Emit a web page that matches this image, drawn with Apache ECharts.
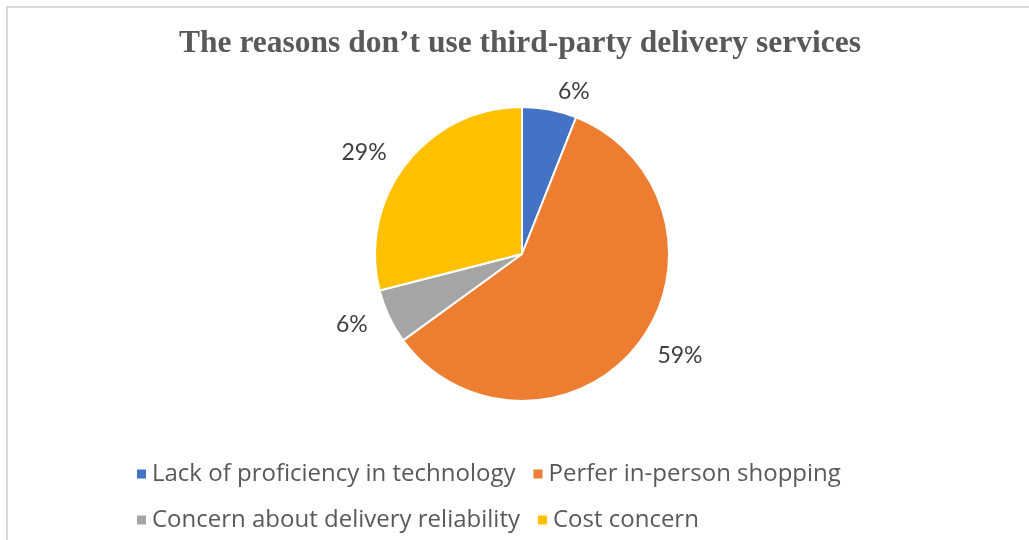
<!DOCTYPE html>
<html>
<head>
<meta charset="utf-8">
<script src="https://cdn.jsdelivr.net/npm/echarts@6/dist/echarts.min.js"></script>
<style>
html,body{margin:0;padding:0;background:#fff;}
#chart{width:1029px;height:540px;}
</style>
</head>
<body>
<div id="chart"></div>
<script>
const titleText = "The reasons don\u2019t use third-party delivery services";
const categories = [
  "Lack of proficiency in technology",
  "Perfer in-person shopping",
  "Concern about delivery reliability",
  "Cost concern"
];
const values = [6, 59, 6, 29];
const colors = ["#4472C4", "#ED7D31", "#A5A5A5", "#FFC000"];

const chart = echarts.init(document.getElementById('chart'), null, {renderer: 'canvas'});
const option = {
  backgroundColor: '#ffffff',
  animation: false,
  title: {
    text: titleText,
    left: 515,
    textAlign: 'center',
    top: 23,
    textStyle: {
      fontFamily: '"Liberation Serif", "Times New Roman", serif',
      fontWeight: 'bold',
      fontSize: 31.5,
      color: '#595959'
    }
  },
  legend: {
    data: categories,
    left: 130,
    top: 454,
    width: 800,
    icon: 'rect',
    itemWidth: 11,
    itemHeight: 11,
    itemGap: 16,
    textStyle: {
      fontFamily: '"Open Sans", Lato, sans-serif',
      fontSize: 24,
      color: '#595959',
      lineHeight: 30
    }
  },
  graphic: [{
    type: 'rect',
    shape: {x: 7, y: 7, width: 1100, height: 600},
    style: {fill: 'none', stroke: '#d9d9d9', lineWidth: 2},
    silent: true
  }],
  series: [{
    type: 'pie',
    center: [522, 254],
    radius: [0, 147],
    startAngle: 90,
    clockwise: true,
    avoidLabelOverlap: false,
    itemStyle: {borderColor: '#ffffff', borderWidth: 2},
    label: {
      show: true,
      position: 'outside',
      formatter: '{c}%',
      fontFamily: 'Lato, "Open Sans", sans-serif',
      fontSize: 23,
      color: '#404040'
    },
    labelLine: {show: false, length: 18, length2: 0},
    data: categories.map((c, i) => ({name: c, value: values[i], itemStyle: {color: colors[i]}}))
  }]
};
chart.setOption(option);
</script>
</body>
</html>
